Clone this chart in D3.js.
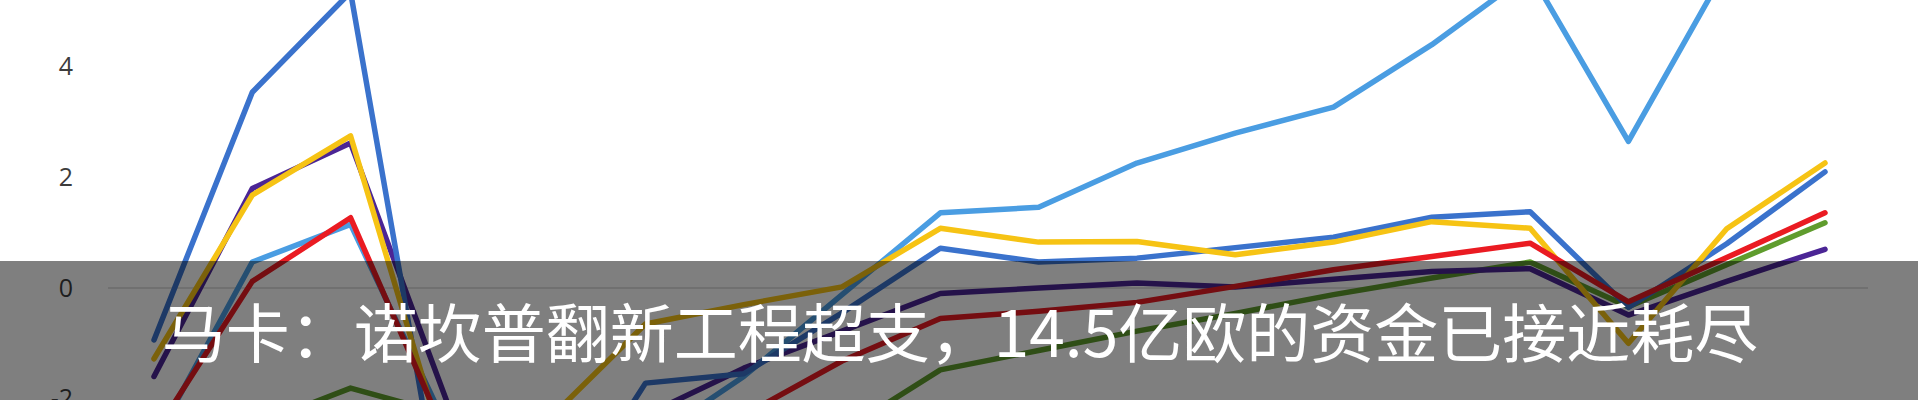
<!DOCTYPE html>
<html>
<head>
<meta charset="utf-8">
<script src="https://cdn.jsdelivr.net/npm/d3@7"></script>
<style>
  html, body { margin: 0; padding: 0; background: #ffffff; }
  svg { display: block; }
</style>
</head>
<body>
<svg id="chart" width="1920" height="400"></svg>
<script>
// ---- data ----
const categories = ["P1","P2","P3","P4","P5","P6","P7","P8","P9","P10","P11","P12","P13","P14","P15","P16","P17","P18"];
const yTicks = [-2, 0, 2, 4];
const title = "马卡：诺坎普翻新工程超支，14.5亿欧的资金已接近耗尽";

const greenValues    = [-2.9, -2.5, -1.81, -2.3, -2.8, -3.0, -3.0, -2.6, -1.48, -1.13, -0.78, -0.46, -0.12, 0.18, 0.47, -0.34, 0.42, 1.18];
const purpleValues   = [-1.6, 1.8, 2.62, -2.15, -2.6, -2.3, -1.45, -0.78, -0.1, 0.0, 0.09, 0.02, 0.16, 0.3, 0.35, -0.49, 0.12, 0.7];
const lightBlueValues= [-2.8, 0.47, 1.15, -2.6, -2.9, -2.8, -1.6, -0.12, 1.36, 1.46, 2.26, 2.8, 3.27, 4.4, 5.7, 2.65, 5.8, 6.3];
const darkBlueValues = [-0.94, 3.54, 5.35, -4.8, -4.5, -1.72, -1.55, -0.45, 0.72, 0.47, 0.54, 0.73, 0.92, 1.28, 1.38, -0.35, 0.8, 2.1];
const yellowValues   = [-1.28, 1.68, 2.75, -3.2, -2.4, -0.65, -0.3, 0.02, 1.08, 0.83, 0.84, 0.6, 0.83, 1.2, 1.08, -1.0, 1.07, 2.26];
const redValues      = [-2.65, 0.12, 1.27, -2.8, -3.0, -2.7, -2.3, -1.32, -0.55, -0.42, -0.26, 0.03, 0.33, 0.57, 0.81, -0.25, 0.55, 1.36];

const seriesList = [
  { name: "green",     values: greenValues,     color: "#5f9c2d" },
  { name: "purple",    values: purpleValues,    color: "#4b2595" },
  { name: "lightBlue", values: lightBlueValues, color: "#4a9de2" },
  { name: "darkBlue",  values: darkBlueValues,  color: "#3a72cc" },
  { name: "yellow",    values: yellowValues,    color: "#f6c314" },
  { name: "red",       values: redValues,       color: "#ea1b22" }
];

// ---- drawing ----
const svg = d3.select("#chart");
const W = 1920, H = 400;

const x = d3.scalePoint().domain(categories).range([154, 1825]);
const y = d3.scaleLinear().domain([-2, 4]).range([398.6, 66.8]);

svg.append("rect").attr("width", W).attr("height", H).attr("fill", "#ffffff");

// zero baseline
svg.append("line")
  .attr("x1", 108).attr("x2", 1868)
  .attr("y1", y(0)).attr("y2", y(0))
  .attr("stroke", "#d6d6d6").attr("stroke-width", 1.5);

// y axis labels
const yAxis = d3.axisLeft(y).tickValues(yTicks).tickSize(0).tickPadding(8).tickFormat(d => String(d));
const gy = svg.append("g").attr("transform", "translate(81,0)").call(yAxis);
gy.select(".domain").remove();
gy.selectAll("text")
  .attr("font-family", "'Open Sans', 'Noto Sans', sans-serif")
  .attr("font-size", 25)
  .attr("fill", "#3c3c3c");

// lines
const line = d3.line()
  .x((d, i) => x(categories[i]))
  .y(d => y(d));

svg.append("g").selectAll("path")
  .data(seriesList)
  .join("path")
  .attr("d", s => line(s.values))
  .attr("fill", "none")
  .attr("stroke", s => s.color)
  .attr("stroke-width", 5.5)
  .attr("stroke-linejoin", "round")
  .attr("stroke-linecap", "round");

// caption banner
svg.append("rect")
  .attr("x", 0).attr("y", 261)
  .attr("width", 1918).attr("height", H - 261)
  .attr("fill", "#000000").attr("fill-opacity", 0.5);

svg.append("text")
  .attr("x", 960).attr("y", 357)
  .attr("text-anchor", "middle")
  .attr("font-family", "'Noto Sans CJK SC', 'Noto Sans', sans-serif")
  .attr("font-size", 64)
  .attr("fill", "#ffffff")
  .text(title);
</script>
</body>
</html>
